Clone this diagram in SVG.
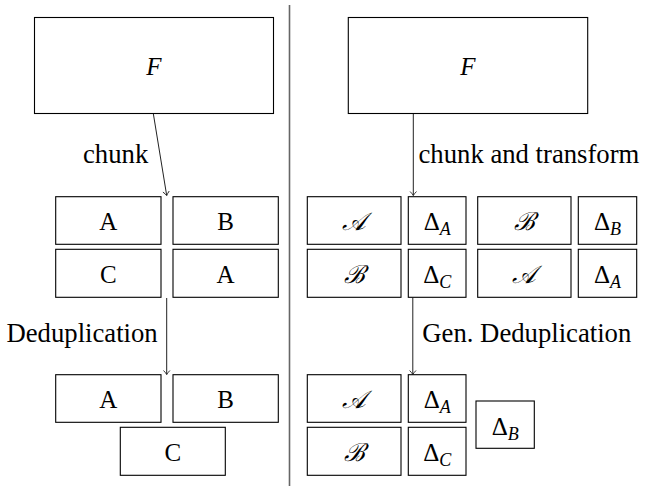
<svg xmlns="http://www.w3.org/2000/svg" width="648" height="487" viewBox="0 0 648 487">
<defs>
<style>
.box{fill:#fff;stroke:#000;stroke-width:1.1}
.t{font-family:"Liberation Serif","DejaVu Serif",serif;font-size:25px;fill:#000;text-anchor:middle}
.lbl{font-family:"Liberation Serif","DejaVu Serif",serif;font-size:26.7px;fill:#000}
.it{font-style:italic}
.sub{font-style:italic;font-size:18px}
.cal{font-family:"DejaVu Serif","Liberation Serif",serif;font-style:italic}
.edge{stroke:#222;stroke-width:1;fill:none;marker-end:url(#arr)}
</style>
<marker id="arr" viewBox="-5 -4 6 8" refX="0" refY="0" markerWidth="6" markerHeight="8" markerUnits="userSpaceOnUse" orient="auto">
<path d="M-4,-3.2 Q-1.5,-0.8 0,0 Q-1.5,0.8 -4,3.2" fill="none" stroke="#222" stroke-width="0.9"/>
</marker>
</defs>
<rect width="648" height="487" fill="#fff"/>
<line x1="289.5" y1="5" x2="289.5" y2="486" stroke="#666" stroke-width="1.6"/>
<g id="connectors">
<line class="edge" x1="153.3" y1="113.5" x2="166.7" y2="195.5"/>
<line class="edge" x1="166.7" y1="298" x2="166.7" y2="374.5"/>
<line class="edge" x1="413.3" y1="113.5" x2="413.3" y2="195.5"/>
<line class="edge" x1="412.8" y1="297.5" x2="412.8" y2="374.5"/>
<text class="lbl" x="83" y="163">chunk</text>
<text class="lbl" x="6.5" y="341.5">Deduplication</text>
<text class="lbl" x="418.5" y="163">chunk and transform</text>
<text class="lbl" x="422.3" y="341.5">Gen. Deduplication</text>
</g>
<g id="L_F"><rect class="box" x="34.5" y="17.5" width="239" height="96"/><text class="t it" x="154" y="75">F</text></g>
<g id="L_A1"><rect class="box" x="55.7" y="196.7" width="105.3" height="47.6"/><text class="t" x="108.3" y="230">A</text></g>
<g id="L_B1"><rect class="box" x="173" y="196.7" width="105.3" height="47.6"/><text class="t" x="225.6" y="230">B</text></g>
<g id="L_C2"><rect class="box" x="55.7" y="249.3" width="105.3" height="48"/><text class="t" x="108.3" y="283">C</text></g>
<g id="L_A2"><rect class="box" x="173" y="249.3" width="105.3" height="48"/><text class="t" x="225.6" y="283">A</text></g>
<g id="L_A3"><rect class="box" x="55.7" y="374.7" width="105.3" height="47.6"/><text class="t" x="108.3" y="408.2">A</text></g>
<g id="L_B3"><rect class="box" x="173" y="374.7" width="105.3" height="47.6"/><text class="t" x="225.6" y="408.2">B</text></g>
<g id="L_C3"><rect class="box" x="120.3" y="427.3" width="105" height="48"/><text class="t" x="172.8" y="461">C</text></g>
<g id="R_F"><rect class="box" x="348.3" y="17.5" width="239.4" height="96"/><text class="t it" x="468" y="75">F</text></g>
<g id="R_A1"><rect class="box" x="307.3" y="196.7" width="93.7" height="47.6"/><text class="t cal" x="354.2" y="230">𝒜</text></g>
<g id="R_dA1"><rect class="box" x="408.3" y="196.7" width="57.7" height="47.6"/><text class="t" x="437.2" y="230">Δ<tspan class="sub" dy="5">A</tspan></text></g>
<g id="R_B1"><rect class="box" x="477.7" y="196.7" width="93.3" height="47.6"/><text class="t cal" x="524.4" y="230">ℬ</text></g>
<g id="R_dB1"><rect class="box" x="578.3" y="196.7" width="58.4" height="47.6"/><text class="t" x="607.5" y="230">Δ<tspan class="sub" dy="5">B</tspan></text></g>
<g id="R_B2"><rect class="box" x="307.3" y="249.3" width="93.7" height="48"/><text class="t cal" x="354.2" y="283">ℬ</text></g>
<g id="R_dC2"><rect class="box" x="408.3" y="249.3" width="57.7" height="48"/><text class="t" x="437.2" y="283">Δ<tspan class="sub" dy="5">C</tspan></text></g>
<g id="R_A2"><rect class="box" x="477.7" y="249.3" width="93.3" height="48"/><text class="t cal" x="524.4" y="283">𝒜</text></g>
<g id="R_dA2"><rect class="box" x="578.3" y="249.3" width="58.4" height="48"/><text class="t" x="607.5" y="283">Δ<tspan class="sub" dy="5">A</tspan></text></g>
<g id="R_A3"><rect class="box" x="307.3" y="374.7" width="93.7" height="47.6"/><text class="t cal" x="354.2" y="408.2">𝒜</text></g>
<g id="R_dA3"><rect class="box" x="408.3" y="374.7" width="57.7" height="47.6"/><text class="t" x="437.2" y="408.2">Δ<tspan class="sub" dy="5">A</tspan></text></g>
<g id="R_B4"><rect class="box" x="307.3" y="427.3" width="93.7" height="48"/><text class="t cal" x="354.2" y="461">ℬ</text></g>
<g id="R_dC4"><rect class="box" x="408.3" y="427.3" width="57.7" height="48"/><text class="t" x="437.2" y="461">Δ<tspan class="sub" dy="5">C</tspan></text></g>
<g id="R_dB"><rect class="box" x="476" y="401" width="58.3" height="47.3"/><text class="t" x="505.2" y="434.5">Δ<tspan class="sub" dy="5">B</tspan></text></g>
</svg>
